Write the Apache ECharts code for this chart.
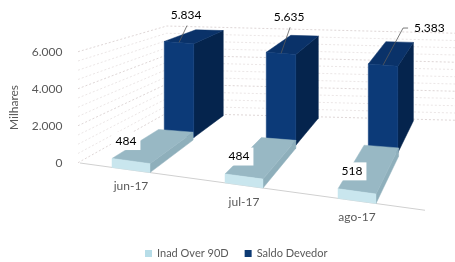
<!DOCTYPE html>
<html>
<head>
<meta charset="utf-8">
<script src="https://cdn.jsdelivr.net/npm/echarts@6/dist/echarts.min.js"></script>
<style>
  html, body { margin: 0; padding: 0; background: #fff; }
  #chart { width: 455px; height: 262px; }
</style>
</head>
<body>
<div id="chart"></div>
<script>
// données (milhares)
const categories = ['jun-17', 'jul-17', 'ago-17'];
const inadOver90D = [484, 484, 518];
const saldoDevedor = [5834, 5635, 5383];
const wallLines = [0, 500, 1000, 1500, 2000, 2500, 3000, 3500, 4000, 4500, 5000, 5500, 6000];

// petits réglages pour les étiquettes de Saldo Devedor (trait de rappel)
const saldoLeader = [[8, -17], [9, -26], [20, -37]];
const saldoLabelSide = ['top', 'top', 'right'];

// "projection" pseudo 3D : plan avant (z=0) et mur du fond (z=1)
const FLOOR_X0 = 80, FRONT_SLOPE = 0.137;
const BACK_A = 101.3, BACK_B = 0.838, BACK_DY = -50, BACK_X0 = 165, BACK_SLOPE = 0.025, BACK_H = 0.784;

const FONT = 'Lato, "Open Sans", sans-serif';

function fmt(v) {
  return String(v).replace(/\B(?=(\d{3})+(?!\d))/g, '.');
}

function project(api, xf, v, z) {
  const y0 = api.coord([0, 0])[1];
  const h = y0 - api.coord([0, v])[1];
  const fy = y0 + (xf - FLOOR_X0) * FRONT_SLOPE - h;
  const bx = BACK_A + BACK_B * xf;
  const by = y0 + BACK_DY + (bx - BACK_X0) * BACK_SLOPE - h * BACK_H;
  return [xf + (bx - xf) * z, fy + (by - fy) * z];
}

function renderBox(frac, z0, z1, colors, labelFn) {
  return function (params, api) {
    const idx = api.value(0);
    const val = api.value(1);
    const c = api.coord([idx, val]);
    const half = api.size([1, 0])[0] * frac / 2;
    const xl = c[0] - half, xr = c[0] + half;
    const P = (x, v, z) => project(api, x, v, z);
    const poly = (pts, fill) => ({
      type: 'polygon',
      shape: { points: pts },
      style: { fill: fill, stroke: fill, lineWidth: 0.5 }
    });
    const children = [
      poly([P(xr, 0, z0), P(xr, 0, z1), P(xr, val, z1), P(xr, val, z0)], colors.side),
      poly([P(xl, val, z0), P(xr, val, z0), P(xr, val, z1), P(xl, val, z1)], colors.top),
      poly([P(xl, 0, z0), P(xr, 0, z0), P(xr, val, z0), P(xl, val, z0)], colors.front)
    ];
    labelFn(children, idx, val, P(c[0], val, z0));
    return { type: 'group', children: children };
  };
}

function inadLabel(children, idx, val, a) {
  children.push({
    type: 'text',
    x: a[0] - 5,
    y: a[1] - 20,
    style: {
      text: fmt(val), fill: '#000', font: '12px ' + FONT,
      align: 'center', verticalAlign: 'middle',
      backgroundColor: '#fff', padding: [3, 4]
    }
  });
}

function saldoLabel(children, idx, val, a) {
  const off = saldoLeader[idx];
  const end = [a[0] + off[0], a[1] + off[1]];
  const pts = [a, end];
  let tx, ty, align;
  if (saldoLabelSide[idx] === 'right') {
    pts.push([end[0] + 5, end[1]]);
    tx = end[0] + 11; ty = end[1]; align = 'left';
  } else {
    tx = end[0] - 1; ty = end[1] - 10; align = 'center';
  }
  children.push({
    type: 'polyline',
    shape: { points: pts },
    style: { stroke: '#595959', lineWidth: 0.8, fill: null }
  });
  children.push({
    type: 'text',
    x: tx,
    y: ty,
    style: {
      text: fmt(val), fill: '#000', font: '12px ' + FONT,
      align: align, verticalAlign: 'middle'
    }
  });
}

const chart = echarts.init(document.getElementById('chart'));

const option = {
  animation: false,
  textStyle: { fontFamily: FONT },
  grid: { left: 74.5, right: 41.5, top: 52, bottom: 99 },
  legend: {
    top: 248,
    left: 145,
    padding: 0,
    itemWidth: 7,
    itemHeight: 7,
    itemGap: 16,
    icon: 'rect',
    textStyle: { fontSize: 11, color: '#595959', fontFamily: FONT },
    data: ['Inad Over 90D', 'Saldo Devedor']
  },
  xAxis: {
    type: 'category',
    data: categories.map((c, i) => ({
      value: c,
      textStyle: { padding: [Math.round(i * 15.5), 0, 0, 0] }
    })),
    axisLine: { show: false },
    axisTick: { show: false },
    axisLabel: { margin: 17, fontSize: 12, color: '#595959', fontFamily: FONT }
  },
  yAxis: {
    type: 'value',
    min: 0,
    max: 6000,
    interval: 2000,
    name: 'Milhares',
    nameLocation: 'middle',
    nameGap: 54,
    nameTextStyle: { fontSize: 12, color: '#595959', fontFamily: FONT },
    axisLine: { show: false },
    axisTick: { show: false },
    splitLine: { show: false },
    axisLabel: { margin: 12, fontSize: 12, color: '#595959', fontFamily: FONT, formatter: fmt }
  },
  series: [
    {
      name: 'paredes',
      type: 'custom',
      silent: true,
      clip: false,
      z: 1,
      data: wallLines.map(v => [0, v]),
      renderItem: function (params, api) {
        const v = api.value(1);
        const P = (x, z) => project(api, x, v, z);
        const children = [{
          type: 'polyline',
          shape: { points: [P(78, 0), P(78, 1), P(430, 1)] },
          style: { stroke: v % 2000 === 0 ? '#d6cccc' : '#e6e0e0', lineWidth: 0.8, lineDash: [2, 2], fill: null }
        }];
        if (v === 0) {
          children.push({
            type: 'line',
            shape: { x1: P(80, 0)[0], y1: P(80, 0)[1], x2: P(425, 0)[0], y2: P(425, 0)[1] },
            style: { stroke: '#d0d0d0', lineWidth: 1 }
          });
        }
        return { type: 'group', children: children };
      }
    },
    {
      name: 'Saldo Devedor',
      type: 'custom',
      clip: false,
      z: 2,
      itemStyle: { color: '#0d3a73' },
      data: saldoDevedor.map((v, i) => [i, v]),
      renderItem: renderBox(0.29, 0.6, 0.98,
        { front: '#0c3a78', top: '#0a3269', side: '#05244d' }, saldoLabel)
    },
    {
      name: 'Inad Over 90D',
      type: 'custom',
      clip: false,
      z: 3,
      itemStyle: { color: '#b7dde8' },
      data: inadOver90D.map((v, i) => [i, v]),
      renderItem: renderBox(0.336, 0, 0.56,
        { front: '#c9e6ee', top: '#98b8c4', side: '#8eafbb' }, inadLabel)
    }
  ]
};

chart.setOption(option);
</script>
</body>
</html>
